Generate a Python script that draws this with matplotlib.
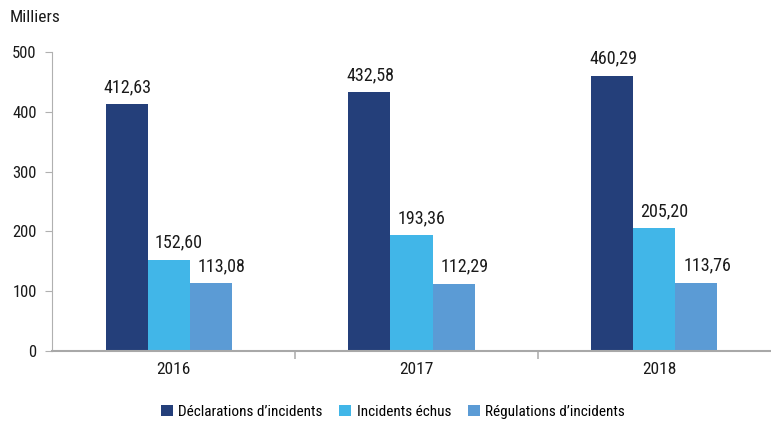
import matplotlib
matplotlib.use('Agg')
import matplotlib.pyplot as plt
import numpy as np

plt.rcParams['font.family'] = ['Liberation Sans Narrow', 'DejaVu Sans Condensed', 'Roboto Condensed',
                               'Open Sans', 'DejaVu Sans']

years = ['2016', '2017', '2018']
declarations = [412.63, 432.58, 460.29]
echus = [152.60, 193.36, 205.20]
regulations = [113.08, 112.29, 113.76]
series_names = ['Déclarations d\u2019incidents', 'Incidents échus', 'Régulations d\u2019incidents']
colors = ['#243F7A', '#41B6E8', '#5B9BD5']
label_shift = [0.005, 0.042, 0.045]  # value labels sit a bit right of the bar in the original

fig = plt.figure(figsize=(7.71, 4.25), dpi=100)
ax = fig.add_axes([52 / 771, 74 / 425, 1 - 52 / 771, 299 / 425])

x = np.arange(len(years))
w = 0.173
for i, (vals, name, c) in enumerate(zip([declarations, echus, regulations], series_names, colors)):
    pos = x + (i - 1) * w - 0.02
    ax.bar(pos, vals, width=w, color=c, label=name)
    for px, v in zip(pos, vals):
        ax.annotate(f'{v:.2f}'.replace('.', ','), (px + label_shift[i], v), xytext=(0, 6),
                    textcoords='offset points', ha='center', va='bottom', fontsize=13, color='#1a1a1a')

ax.set_ylim(0, 500)
ax.set_xlim(-0.5, 2.46)
ax.set_yticks([0, 100, 200, 300, 400, 500])
ax.set_xticks(x)
ax.set_xticklabels(years)
ax.set_xticks([0.5, 1.5], minor=True)
ax.tick_params(axis='x', which='major', length=0, labelsize=12.5, pad=8, labelcolor='#1a1a1a')
ax.tick_params(axis='x', which='minor', length=6, color='#b0b0b0', width=1.2)
ax.tick_params(axis='y', length=5, color='#b0b0b0', labelsize=12, pad=6, labelcolor='#1a1a1a')
for s in ['top', 'right']:
    ax.spines[s].set_visible(False)
ax.spines['left'].set_color('#b0b0b0')
ax.spines['bottom'].set_color('#a8a8a8')
ax.spines['bottom'].set_linewidth(1.5)

fig.text(10 / 771, 1 - 17 / 425, 'Milliers', fontsize=12.5, va='center', ha='left', color='#1a1a1a')

fig.legend(loc='center', bbox_to_anchor=(393 / 771, 1 - 412 / 425), ncol=3, frameon=False,
           fontsize=11, handlelength=0.78, handleheight=0.78, handletextpad=0.35, columnspacing=1.1)

fig.savefig('out.png', dpi=100)
